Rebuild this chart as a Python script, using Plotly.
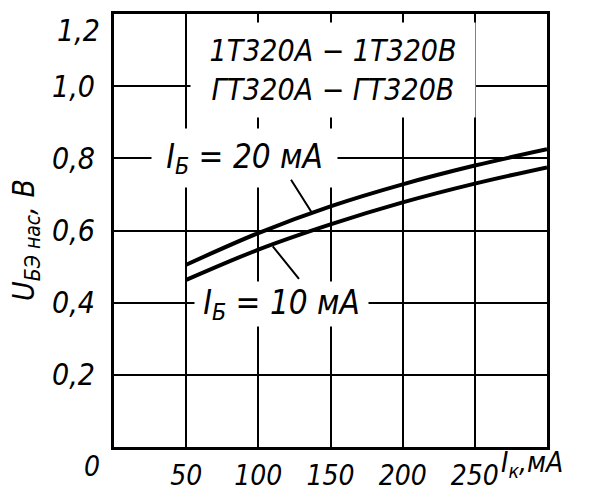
import plotly.graph_objects as go

# Data
ik_ma = [50, 100, 150, 200, 250, 300]
u_ib20 = [0.505, 0.593, 0.667, 0.728, 0.780, 0.825]
u_ib10 = [0.463, 0.547, 0.617, 0.678, 0.730, 0.775]

x_ticks = [50, 100, 150, 200, 250]
y_ticks = [0.2, 0.4, 0.6, 0.8, 1.0, 1.2]
y_ticktext = ["0,2", "0,4", "0,6", "0,8", "1,0", ""]
y_top_label = "1,2"

FONT = "Liberation Sans Narrow, DejaVu Sans Condensed, Arial Narrow, sans-serif"

fig = go.Figure()
for yv in (u_ib20, u_ib10):
    fig.add_trace(go.Scatter(x=ik_ma, y=yv, mode="lines",
                             line=dict(color="black", width=4, shape="spline"),
                             showlegend=False, hoverinfo="skip"))

font_main = dict(family=FONT, size=30, color="black", style="italic")
font_x = dict(family=FONT, size=28, color="black", style="italic")
font_lbl = dict(family=FONT, size=33, color="black", style="italic")

# page has a small body margin; plot area targets page px 114..547 x 14..447
fig.update_layout(
    width=590, height=478,
    margin=dict(l=106, r=51, t=6, b=39, autoexpand=False),
    paper_bgcolor="white", plot_bgcolor="white",
    font=font_main,
    xaxis=dict(range=[0, 300], tickvals=x_ticks, showgrid=True, gridcolor="black",
               gridwidth=2, zeroline=False, showline=True, linecolor="black",
               linewidth=3, mirror=True, ticks="", ticklabelstandoff=1,
               automargin=False, tickfont=font_x),
    yaxis=dict(range=[0, 1.2], tickvals=y_ticks, ticktext=y_ticktext, showgrid=True,
               gridcolor="black", gridwidth=2, zeroline=False, showline=True,
               linecolor="black", linewidth=3, mirror=True, ticks="",
               ticklabelstandoff=10, automargin=False, tickfont=font_main),
)

def px_x(p):
    return (p - 114) / 433

def px_y(p):
    return (447 - p) / 433

ann = []
# header box
ann.append(dict(xref="paper", yref="paper", x=px_x(333), y=px_y(70),
                text="1Т320А − 1Т320В<br>ГТ320А − ГТ320В", showarrow=False,
                bgcolor="white", width=282, height=92, font=font_main,
                xanchor="center", yanchor="middle"))
# curve labels
ann.append(dict(xref="paper", yref="paper", x=px_x(244), y=px_y(158),
                text="I<sub>Б</sub> = 20 мА", showarrow=False, bgcolor="white",
                width=183, height=56, font=font_lbl, xanchor="center", yanchor="middle"))
ann.append(dict(xref="paper", yref="paper", x=px_x(281), y=px_y(304),
                text="I<sub>Б</sub> = 10 мА", showarrow=False, bgcolor="white",
                width=171, height=42, font=font_lbl, xanchor="center", yanchor="middle"))
# leader lines
ann.append(dict(x=137, y=0.650, ax=122, ay=0.745, xref="x", yref="y", axref="x", ayref="y",
                text="", showarrow=True, arrowhead=0, arrowwidth=2, arrowcolor="black"))
ann.append(dict(x=110, y=0.556, ax=129, ay=0.462, xref="x", yref="y", axref="x", ayref="y",
                text="", showarrow=True, arrowhead=0, arrowwidth=2, arrowcolor="black"))
# top y label, origin label and axis titles
ann.append(dict(xref="paper", yref="paper", x=px_x(102), y=px_y(30),
                text=y_top_label, showarrow=False, font=font_main,
                xanchor="right", yanchor="middle"))
ann.append(dict(xref="paper", yref="paper", x=px_x(92), y=px_y(466),
                text="0", showarrow=False, font=font_x, xanchor="center", yanchor="middle"))
ann.append(dict(xref="paper", yref="paper", x=px_x(499), y=px_y(464),
                text="I<sub>к</sub>,мА", showarrow=False, font=font_x,
                xanchor="left", yanchor="middle"))
ann.append(dict(xref="paper", yref="paper", x=px_x(25), y=px_y(240),
                text="U<sub>БЭ нас</sub>, В", showarrow=False, textangle=-90,
                font=font_main, xanchor="center", yanchor="middle"))
fig.update_layout(annotations=ann)

fig.write_html("out.html")
